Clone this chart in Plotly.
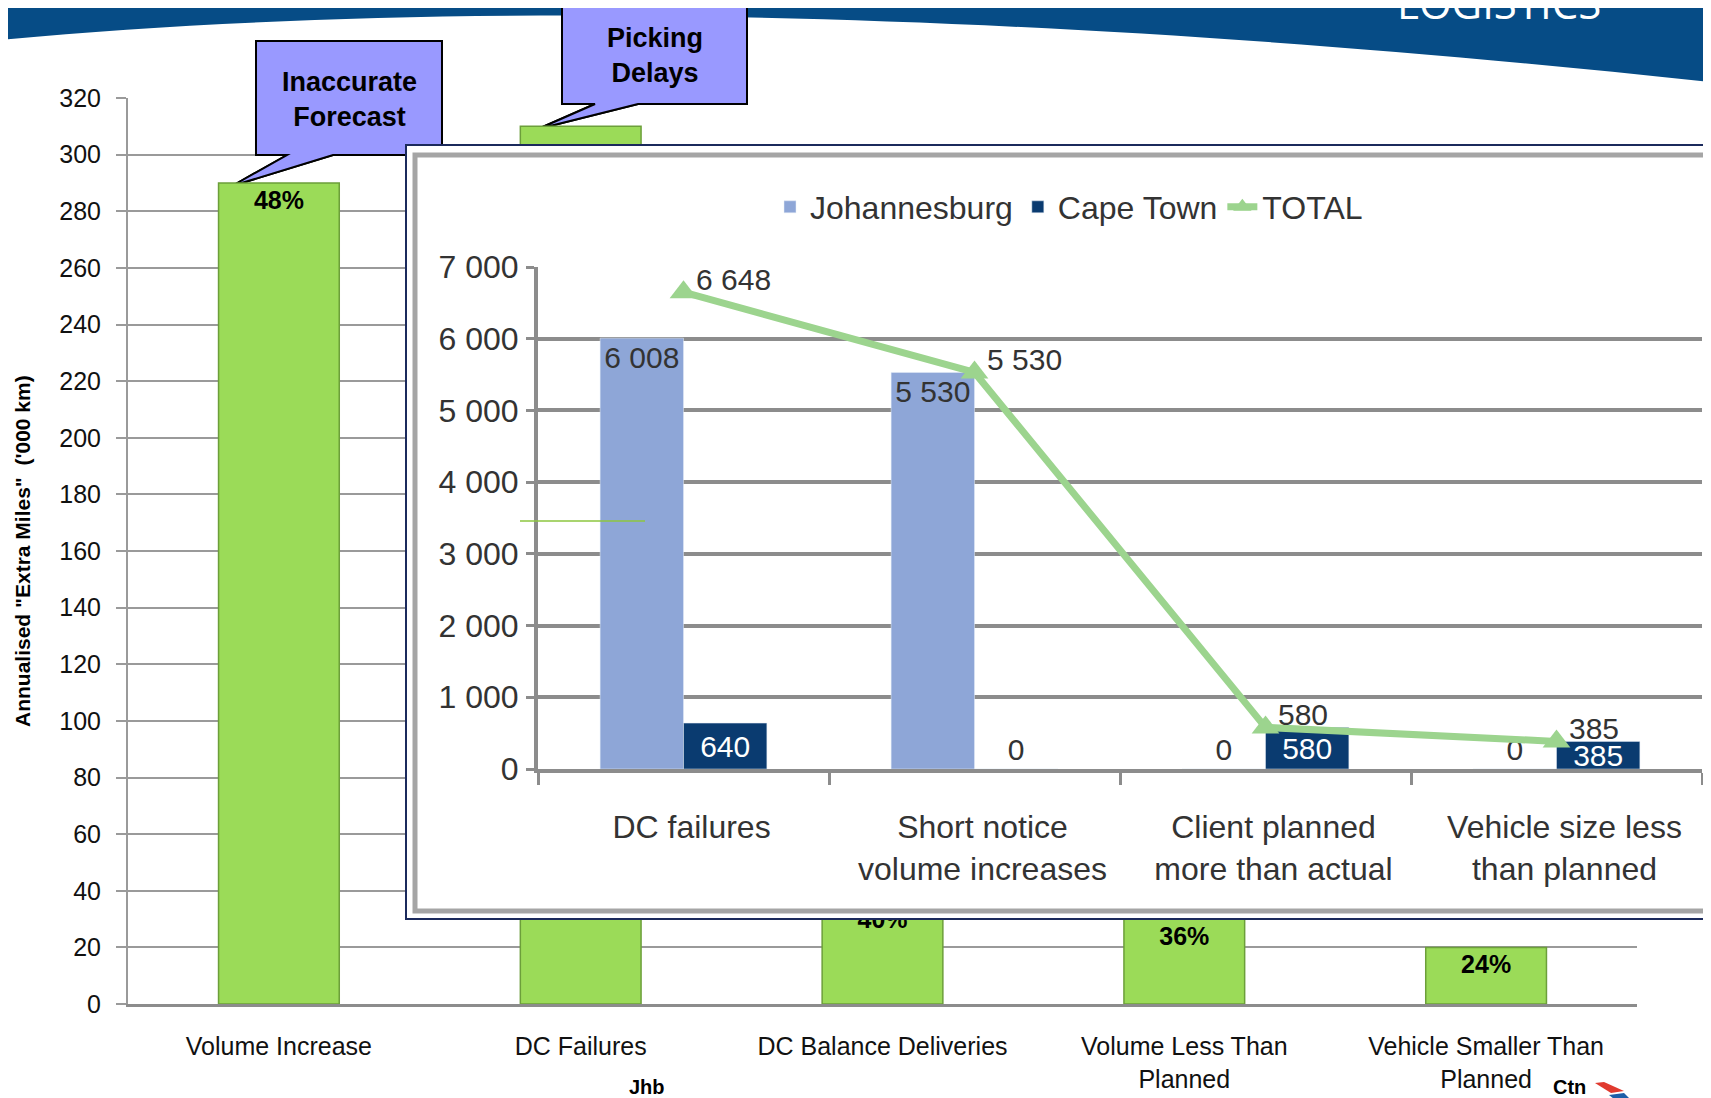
import plotly.graph_objects as go

W, H = 1711, 1098
OFF = 8                      # page body margin in front of the figure
FW, FH = W - OFF, H - OFF
FONT = "Liberation Sans, Arial, sans-serif"

# main chart: annualised extra miles ('000 km) per root cause
causes = ["Volume Increase", "DC Failures", "DC Balance Deliveries",
          "Volume Less Than<br>Planned", "Vehicle Smaller Than<br>Planned"]
extra_miles = [290, 310, 36, 30, 20]
shares = ["48%", "", "40%", "36%", "24%"]

# inset: DC failure reasons per site
reasons = ["DC failures", "Short notice<br>volume increases",
           "Client planned<br>more than actual", "Vehicle size less<br>than planned"]
jhb = [6008, 5530, 0, 0]
ctn = [640, 0, 580, 385]
total = [6648, 5530, 580, 385]


def fx(px):
    return (px - OFF) / FW


def fy(py):
    return 1 - (py - OFF) / FH


# pixel geometry of the slide
MX0, MX1, MY0, MY1 = 128, 1637, 1004, 98      # main plot area (0 and 320 rows)
BX0, BY0, BY1 = 406, 145, 919                  # inset frame
IX0, IX1, IY0, IY1 = 538, 1702, 769, 267       # inset plot area

GRID = "#8C8C8C"


def paper_path(points):
    return "M " + " L ".join(f"{fx(x):.5f},{fy(y):.5f}" for x, y in points) + " Z"


def data_path(points):
    step = (MX1 - MX0) / len(causes)
    return "M " + " L ".join(
        f"{(x - MX0) / step - 0.5:.4f},{(MY0 - y) * 320 / (MY0 - MY1):.3f}" for x, y in points
    ) + " Z"


fig = go.Figure()

fig.add_trace(go.Bar(
    x=causes, y=extra_miles, text=shares, width=0.4,
    marker=dict(color="#9BDB58", line=dict(color="#6C9F3A", width=1.5)),
    textposition="inside", insidetextanchor="end",
    textfont=dict(size=25, color="black", family=FONT, weight="bold"),
    showlegend=False, hoverinfo="skip",
))

# empty subplot used as the white inset panel
fig.add_trace(go.Scatter(x=[None], y=[None], xaxis="x2", yaxis="y2",
                         showlegend=False, hoverinfo="skip"))

fig.add_trace(go.Bar(
    x=reasons, y=jhb, name="Johannesburg", xaxis="x3", yaxis="y3",
    marker=dict(color="#8EA6D7"), texttemplate="%{y:,}",
    textposition=["inside" if v else "outside" for v in jhb], insidetextanchor="end",
    insidetextfont=dict(size=30, color="#333333"), outsidetextfont=dict(size=30, color="#333333"),
    constraintext="none", cliponaxis=False, hoverinfo="skip",
))
fig.add_trace(go.Bar(
    x=reasons, y=ctn, name="Cape Town", xaxis="x3", yaxis="y3",
    marker=dict(color="#0A3B70"), texttemplate="%{y:,}",
    textposition=["inside" if v else "outside" for v in ctn], insidetextanchor="middle",
    insidetextfont=dict(size=30, color="white"), outsidetextfont=dict(size=30, color="#333333"),
    constraintext="none", cliponaxis=False, hoverinfo="skip",
))
fig.add_trace(go.Scatter(
    x=reasons, y=total, name="TOTAL", xaxis="x3", yaxis="y3", mode="lines+markers",
    line=dict(color="#9CD48E", width=7),
    marker=dict(symbol="triangle-up", size=24, color="#9CD48E"),
    cliponaxis=False, hoverinfo="skip",
))

shapes = []
# header swoosh
shapes.append(dict(
    type="path", xref="paper", yref="paper", layer="below",
    path=(f"M {fx(0):.5f},1.01 L {fx(0):.5f},{fy(40):.5f} C {fx(380):.5f},{fy(4):.5f} "
          f"{fx(950):.5f},{fy(0):.5f} {fx(1711):.5f},{fy(82):.5f} L {fx(1711):.5f},1.01 Z"),
    fillcolor="#064C86", line=dict(width=0),
))
# callouts
callouts = [
    [(256, 41), (442, 41), (442, 155), (333, 155), (232, 186), (287, 155), (256, 155)],
    [(562, 5), (747, 5), (747, 104), (638, 104), (538, 129), (595, 104), (562, 104)],
]
for pts in callouts:
    shapes.append(dict(type="path", xref="paper", yref="paper", layer="below",
                       path=paper_path(pts), fillcolor="#9999FF",
                       line=dict(color="black", width=2)))
    shapes.append(dict(type="path", xref="x", yref="y", layer="between",
                       path=data_path(pts), fillcolor="#9999FF",
                       line=dict(color="black", width=2)))
# small logo next to "Ctn"
shapes.append(dict(type="path", xref="paper", yref="paper", layer="above",
                   path=paper_path([(1595, 1083), (1604, 1082), (1624, 1091), (1611, 1093)]),
                   fillcolor="#E03A2F", line=dict(width=0)))
shapes.append(dict(type="path", xref="paper", yref="paper", layer="above",
                   path=paper_path([(1609, 1095), (1624, 1093), (1630, 1099), (1614, 1099)]),
                   fillcolor="#1E5FA8", line=dict(width=0)))
# inset frame
shapes.append(dict(type="rect", xref="paper", yref="paper", layer="above",
                   x0=fx(BX0), x1=fx(W + 10), y0=fy(BY1), y1=fy(BY0),
                   line=dict(color="#1B2A5C", width=2)))
shapes.append(dict(type="rect", xref="paper", yref="paper", layer="above",
                   x0=fx(415), x1=fx(1707), y0=fy(911), y1=fy(155),
                   line=dict(color="#A5A5A5", width=5)))
shapes.append(dict(type="line", xref="paper", yref="paper", layer="above",
                   x0=fx(520), x1=fx(645), y0=fy(521), y1=fy(521),
                   line=dict(color="#8CC63F", width=1.5)))

annotations = [
    dict(x=fx(349), y=fy(99), text="<b>Inaccurate<br>Forecast</b>",
         font=dict(size=27, color="black")),
    dict(x=fx(655), y=fy(55), text="<b>Picking<br>Delays</b>",
         font=dict(size=27, color="black")),
    dict(x=fx(22), y=fy(551), text="<b>Annualised \"Extra Miles\"  ('000 km)</b>",
         textangle=-90, font=dict(size=21, color="black")),
    dict(x=fx(1499), y=fy(33), yanchor="bottom", text="LOGISTICS",
         font=dict(size=42, color="white", family="Open Sans")),
    dict(x=fx(647), y=fy(1087), text="<b>Jhb</b>", font=dict(size=20, color="black")),
    dict(x=fx(1569), y=fy(1087), text="<b>Ctn</b>", font=dict(size=20, color="black")),
]
for r, v in zip(reasons, total):
    annotations.append(dict(x=r, y=v, xref="x3", yref="y3", text=f"{v:,}".replace(",", " "),
                            xanchor="left", yanchor="middle", xshift=10, yshift=13,
                            font=dict(size=30, color="#333333")))
for a in annotations:
    a.setdefault("xref", "paper")
    a.setdefault("yref", "paper")
    a.setdefault("xanchor", "center")
    a.setdefault("yanchor", "middle")
    a.setdefault("showarrow", False)

fig.update_layout(
    width=FW, height=FH, margin=dict(l=0, r=0, t=0, b=0, pad=0),
    paper_bgcolor="white", plot_bgcolor="white",
    font=dict(family=FONT, color="#222222"),
    separators=". ", barmode="group", bargap=0.427, bargroupgap=0,
    showlegend=True,
    legend=dict(orientation="h", x=fx(1069), y=fy(207), xanchor="center", yanchor="middle",
                font=dict(size=32, color="#333333"), bgcolor="rgba(0,0,0,0)"),
    xaxis=dict(domain=[fx(MX0), fx(MX1)], anchor="y", showline=True, linecolor=GRID,
               linewidth=3, ticks="", tickfont=dict(size=25, color="#111111"),
               ticklabelstandoff=18, automargin=False),
    yaxis=dict(domain=[fy(MY0), fy(MY1)], anchor="x", range=[0, 320], dtick=20,
               showgrid=True, gridcolor="#9A9A9A", gridwidth=2, showline=True,
               linecolor="#9A9A9A", linewidth=2, ticks="outside", ticklen=10,
               tickcolor="#9A9A9A", tickwidth=2, tickfont=dict(size=25, color="#111111"),
               ticklabelstandoff=10, zeroline=False, automargin=False),
    xaxis2=dict(domain=[fx(BX0), 1], anchor="y2", visible=False, automargin=False),
    yaxis2=dict(domain=[fy(BY1), fy(BY0)], anchor="x2", visible=False, automargin=False),
    xaxis3=dict(domain=[fx(IX0), fx(IX1)], anchor="y3", showline=True, linecolor=GRID,
                linewidth=4, ticks="outside", tickson="boundaries", ticklen=12,
                tickwidth=3, tickcolor=GRID, tickfont=dict(size=32, color="#333333"),
                ticklabelstandoff=27, ticklabelshift=8, automargin=False),
    yaxis3=dict(domain=[fy(IY0), fy(IY1)], anchor="x3", range=[0, 7000], dtick=1000,
                tickformat=",d", showgrid=True, gridcolor=GRID, gridwidth=3.5,
                showline=True, linecolor=GRID, linewidth=4, ticks="outside", ticklen=8,
                tickwidth=3, tickcolor=GRID, tickfont=dict(size=32, color="#333333"),
                ticklabelstandoff=1, zeroline=False, automargin=False),
    shapes=shapes, annotations=annotations,
)

fig.write_html("out.html")
